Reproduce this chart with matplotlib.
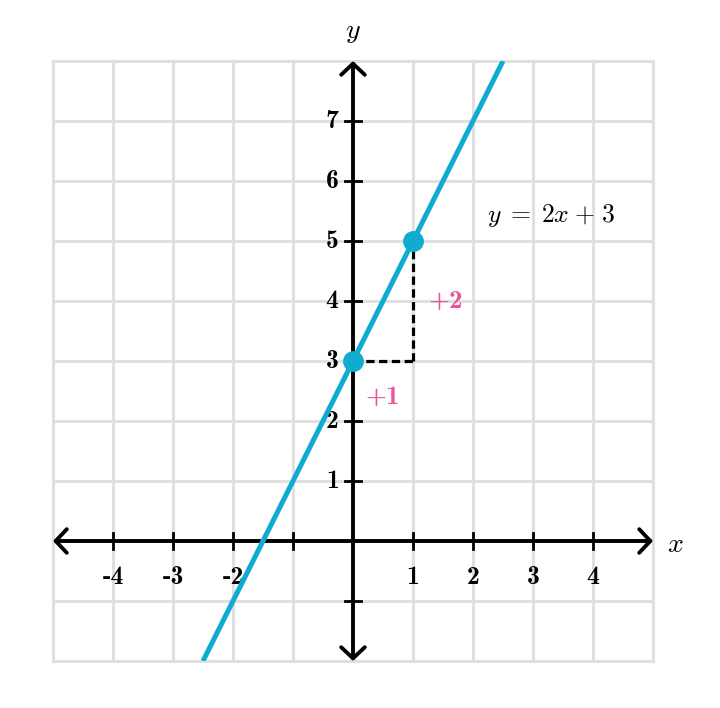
import matplotlib
matplotlib.use("Agg")
import matplotlib.pyplot as plt
import numpy as np

plt.rcParams['mathtext.fontset'] = 'cm'

# Data
x_ticks = [-4, -3, -2, -1, 1, 2, 3, 4]
x_tick_labels = ['-4', '-3', '-2', '', '1', '2', '3', '4']
y_ticks = [-1, 1, 2, 3, 4, 5, 6, 7]
y_tick_labels = ['', '1', '2', '3', '4', '5', '6', '7']
slope = 2
intercept = 3
line_x = [-2.5, 2.5]
points_x = [0, 1]
points_y = [3, 5]
xmin, xmax = -5, 5
ymin, ymax = -2, 8

BLUE = '#11accd'
PINK = '#e8559b'
BOLD = 'cmb10'

fig = plt.figure(figsize=(7.2, 7.08), dpi=100)
ax = fig.add_axes([53/720, (708-661)/708, 600/720, 600/708])
ax.set_xlim(xmin, xmax)
ax.set_ylim(ymin, ymax)
ax.axis('off')

# grid
for gx in range(xmin, xmax + 1):
    ax.plot([gx, gx], [ymin, ymax], color='#e0e0e0', lw=2.2, zorder=0, clip_on=False)
for gy in range(ymin, ymax + 1):
    ax.plot([xmin, xmax], [gy, gy], color='#e0e0e0', lw=2.2, zorder=0, clip_on=False)

# axes with arrows
for start, end in [((xmin, 0), (xmax, 0)), ((0, ymin), (0, ymax))]:
    ax.annotate('', xy=start, xytext=end,
                arrowprops=dict(arrowstyle='<->,head_length=0.8,head_width=0.85', lw=2.8,
                                color='black', shrinkA=0, shrinkB=0,
                                capstyle='round', joinstyle='round'), zorder=3)

# ticks
tl = 0.14
for tx, lab in zip(x_ticks, x_tick_labels):
    ax.plot([tx, tx], [-tl, tl], color='black', lw=2, zorder=3)
    if lab:
        ax.text(tx, -0.6, lab, ha='center', va='center', fontsize=18.5, family=BOLD)
for ty, lab in zip(y_ticks, y_tick_labels):
    ax.plot([-tl, tl], [ty, ty], color='black', lw=2, zorder=3)
    if lab:
        ax.text(-0.24, ty, lab, ha='right', va='center', fontsize=18.5, family=BOLD)

# axis labels
ax.text(5.37, -0.05, r'$x$', ha='center', va='center', fontsize=20)
ax.text(0, 8.5, r'$y$', ha='center', va='center', fontsize=20)

# line
lx = np.array(line_x)
ax.plot(lx, slope * lx + intercept, color=BLUE, lw=3.6, zorder=4, solid_capstyle='butt')

# dashed slope triangle
ax.plot([points_x[0], points_x[1]], [points_y[0], points_y[0]], color='black', lw=2.3,
        dashes=(2.6, 1.4), zorder=3)
ax.plot([points_x[1], points_x[1]], [points_y[0], points_y[1]], color='black', lw=2.3,
        dashes=(2.6, 1.4), zorder=3)

# points
ax.plot(points_x, points_y, 'o', color=BLUE, markersize=14, zorder=5)

# annotations
ax.text(0.5, 2.4, '+1', color=PINK, ha='center', va='center', fontsize=19.5, family=BOLD)
ax.text(1.55, 3.97, '+2', color=PINK, ha='center', va='center', fontsize=19.5, family=BOLD)
ax.text(3.3, 5.43, r'$y\;=\;\mathbf{2}x\;\mathbf{+}\;\mathbf{3}$', color='black',
        ha='center', va='center', fontsize=18.5)

fig.savefig('out.png', dpi=100)
